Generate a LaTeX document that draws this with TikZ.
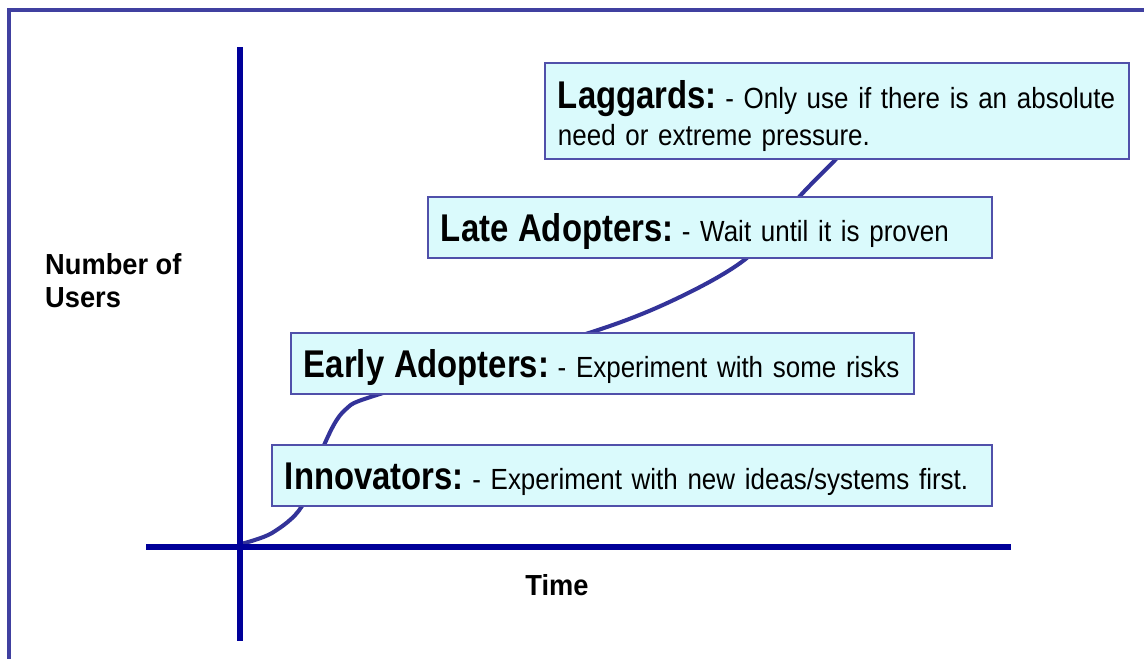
\documentclass[tikz,border=0pt]{standalone}
\usepackage{fontspec}
\setmainfont{Liberation Sans}
\newfontfamily\headfont[FakeStretch=0.85]{Liberation Sans}
\newfontfamily\descfont[FakeStretch=0.89]{Liberation Sans}
\newfontfamily\axisfont[FakeStretch=0.94]{Liberation Sans}
\definecolor{axisblue}{RGB}{0,0,153}
\definecolor{curveblue}{RGB}{51,51,153}
\definecolor{frameblue}{RGB}{64,64,160}
\definecolor{boxline}{RGB}{80,80,170}
\definecolor{boxfill}{RGB}{218,250,252}
\newcommand\stagename[1]{{\headfont\bfseries\fontsize{22}{21}\selectfont #1}\hspace{0.17cm}}

\begin{document}
\begin{tikzpicture}[x=0.02cm, y=-0.02cm,
	stage/.style={draw=boxline, fill=boxfill, line width=1.1pt, anchor=north west, inner xsep=0.26cm, inner ysep=0pt, align=left, font=\descfont\fontsize{16.6}{21}\selectfont},
	oneline/.style={minimum height=1.22cm, text height=0.57cm, text depth=0cm},
	axislabel/.style={font=\axisfont\bfseries\fontsize{16.5}{18.7}\selectfont, align=left}]
	\useasboundingbox (0,0) rectangle (1144,659);
	\draw[frameblue, line width=1.8pt] (9,10) rectangle (1170,690);
	\draw[curveblue, line width=2.3pt] plot[smooth] coordinates {(241,544) (272,533) (302,506) (325,443) (345,410) (383,393) (592,332) (680,297) (748,257) (800,196) (837,158) (880,110)};
	\draw[axisblue, line width=3.2pt] (240,47) -- (240,641);
	\draw[axisblue, line width=3.4pt] (146,547) -- (1011,547);
	\node[stage, text width=11.16cm, minimum height=1.92cm, text height=0.4cm, text depth=0.48cm] (lag) at (544,62) {\stagename{Laggards:}- Only use if there is an absolute\\need or extreme pressure.};
	\node[stage, oneline, text width=10.76cm] (late) at (427,196) {\stagename{Late Adopters:}- Wait until it is proven};
	\node[stage, oneline, text width=11.94cm] (early) at (290,332) {\stagename{Early Adopters:}- Experiment with some risks};
	\node[stage, oneline, text width=13.88cm] (innov) at (271,444) {\stagename{Innovators:}- Experiment with new ideas/systems first.};
	\node[axislabel, anchor=west] (users) at (39,281) {Number of\\Users};
	\node[axislabel] (time) at (557,585) {Time};
\end{tikzpicture}
\end{document}
